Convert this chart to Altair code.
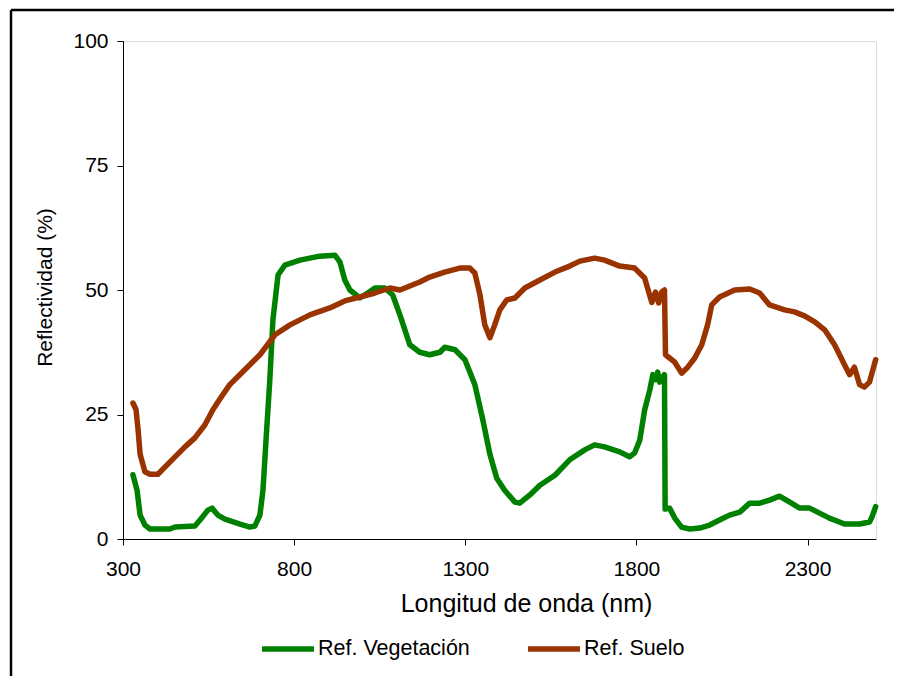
import altair as alt
import pandas as pd

# Wavelength (nm) and reflectance (%)
veg_nm = [329, 341, 350, 364, 379, 437, 452, 510, 525, 548, 560, 577, 598, 642, 671, 685, 700, 709, 718, 729,
          738, 753, 773, 817, 875, 919, 934, 948, 963, 992, 1015, 1036, 1065, 1088, 1109, 1138, 1167, 1196, 1226, 1240,
          1270, 1299, 1328, 1351, 1372, 1392, 1415, 1445, 1459, 1488, 1518, 1562, 1605, 1649, 1678, 1707, 1751, 1780,
          1795, 1810, 1824, 1839, 1848, 1856, 1862, 1868, 1877, 1882, 1884, 1897, 1912, 1932, 1956, 1985, 2014, 2043,
          2072, 2102, 2131, 2160, 2189, 2218, 2248, 2277, 2306, 2335, 2364, 2408, 2452, 2481, 2487, 2499]
veg_val = [12.9, 9.8, 4.8, 2.8, 2, 2, 2.4, 2.6, 3.8, 5.8, 6.2, 4.8, 4, 3, 2.4, 2.6, 4.8, 9.8, 20, 32,
           44, 53, 55, 56, 56.8, 57, 55.6, 52, 50, 48.4, 49.4, 50.4, 50.4, 49, 45, 39, 37.5, 37, 37.5, 38.5,
           38, 36, 31, 24, 17, 12.2, 9.8, 7.4, 7.2, 8.8, 10.8, 12.8, 15.9, 17.9, 18.9, 18.5, 17.5, 16.5,
           17.3, 19.9, 25.9, 29.9, 33, 32, 33.5, 31.5, 32.5, 33, 6, 6.2, 4.2, 2.4, 2, 2.2, 2.8, 3.8,
           4.8, 5.4, 7.2, 7.2, 7.8, 8.6, 7.4, 6.2, 6.2, 5.2, 4.2, 3, 3, 3.4, 4.2, 6.5]

soil_nm = [329, 338, 344, 350, 364, 379, 402, 423, 452, 481, 510, 539, 563, 589, 612, 656, 700, 744, 788, 846,
           904, 948, 992, 1036, 1080, 1109, 1138, 1167, 1196, 1240, 1284, 1313, 1328, 1343, 1357, 1372, 1386, 1401,
           1421, 1445, 1474, 1518, 1562, 1605, 1635, 1678, 1707, 1751, 1795, 1824, 1845, 1856, 1865, 1874, 1882,
           1885, 1912, 1932, 1950, 1970, 1991, 2008, 2020, 2043, 2087, 2131, 2160, 2189, 2233, 2262, 2291, 2321,
           2350, 2379, 2408, 2423, 2437, 2452, 2466, 2481, 2499]
soil_val = [27.3, 26, 22, 17, 13.5, 13, 13, 14.5, 16.5, 18.5, 20.3, 22.9, 26, 28.7, 31, 34, 37, 41, 43, 45,
            46.4, 47.8, 48.6, 49.4, 50.4, 50, 50.8, 51.6, 52.6, 53.6, 54.4, 54.4, 53.4, 49, 43, 40.4, 43, 46,
            48, 48.4, 50.4, 52, 53.6, 54.8, 55.8, 56.4, 56, 54.8, 54.4, 52.4, 47.5, 49.6, 47.4, 49.6, 50,
            37, 35.5, 33.3, 34.5, 36.3, 39, 43, 47, 48.6, 50, 50.2, 49.4, 47, 46, 45.6, 44.8, 43.6,
            42, 39, 35, 33, 34.5, 31, 30.5, 31.5, 36]

series_names = ["Ref. Vegetación", "Ref. Suelo"]
series_colors = ["#008000", "#993300"]
x_ticks = [300, 800, 1300, 1800, 2300]
y_ticks = [0, 25, 50, 75, 100]

rows = []
for i, (n, v) in enumerate(zip(veg_nm, veg_val)):
    rows.append({"nm": n, "ref": v, "serie": series_names[0], "ord": i})
for i, (n, v) in enumerate(zip(soil_nm, soil_val)):
    rows.append({"nm": n, "ref": v, "serie": series_names[1], "ord": i})
df = pd.DataFrame(rows)

FONT = "Liberation Sans"

lines = alt.Chart(df).mark_line(strokeWidth=5.5, strokeCap="round", strokeJoin="round").encode(
    x=alt.X("nm:Q", scale=alt.Scale(domain=[300, 2500], nice=False, zero=False),
            axis=alt.Axis(values=x_ticks, format="d", title="Longitud de onda (nm)", grid=False,
                          labelFlush=False, labelOverlap=False,
                          domainColor="black", tickColor="black", tickSize=6,
                          labelFontSize=21, labelColor="black", labelFont=FONT, labelPadding=13,
                          titleFontSize=25, titleFont=FONT, titleFontWeight="normal", titleColor="black",
                          titleX=403, titleY=64, titleBaseline="middle", titleAlign="center", titleAnchor="start")),
    y=alt.Y("ref:Q", scale=alt.Scale(domain=[0, 100], nice=False),
            axis=alt.Axis(values=y_ticks, format="d", title="Reflectividad (%)", grid=False,
                          labelFlush=False, labelOverlap=False,
                          domainColor="black", tickColor="black", tickSize=6,
                          labelFontSize=21, labelColor="black", labelFont=FONT, labelPadding=9,
                          titleFontSize=21, titleFont=FONT, titleFontWeight="normal", titleColor="black",
                          titleX=-78, titleY=246, titleAngle=-90, titleBaseline="middle",
                          titleAlign="center", titleAnchor="start")),
    color=alt.Color("serie:N", scale=alt.Scale(domain=series_names, range=series_colors),
                    legend=alt.Legend(title=None, orient="none", legendX=136, legendY=579,
                                      direction="horizontal", symbolType="stroke", symbolSize=2700,
                                      symbolStrokeWidth=5.5, labelFontSize=21.5, labelFont=FONT,
                                      labelColor="black", labelOffset=1, columnPadding=47)),
    order="ord:Q",
)

frame_src = pd.DataFrame({"k": [0]})
top_line = alt.Chart(frame_src).mark_rule(stroke="black", strokeWidth=2.5).encode(
    x=alt.value(-112), x2=alt.value(790), y=alt.value(-31)
)
left_line = alt.Chart(frame_src).mark_rule(stroke="black", strokeWidth=2.5).encode(
    x=alt.value(-112), y=alt.value(-31), y2=alt.value(660)
)

chart = alt.layer(top_line, left_line, lines).properties(
    width=753, height=498,
    autosize=alt.AutoSizeParams(type="none"),
    padding={"left": 115, "top": 33, "right": 18, "bottom": 137},
).configure_view(stroke="#808080", strokeWidth=1.5).configure(background="white")

chart.save("out.html", embed_options={"renderer": "svg", "actions": False})
